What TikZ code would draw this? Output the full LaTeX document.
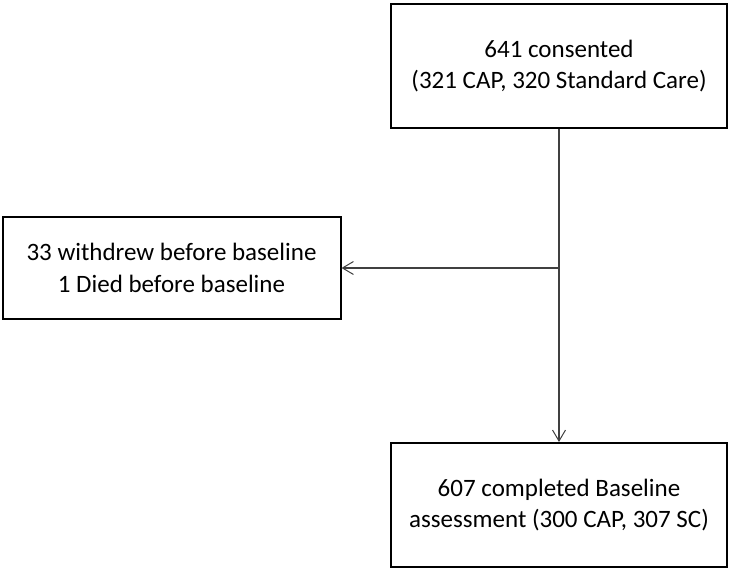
\documentclass[tikz,border=0pt]{standalone}
\usepackage{fontspec}
\setmainfont{Carlito}
\usetikzlibrary{positioning,arrows.meta}

\begin{document}
\begin{tikzpicture}[
            x=1pt, y=-1pt,
            box/.style = {draw=black, line width=2pt, inner sep=0pt, align=center,
                          minimum width=336pt, minimum height=124pt,
                          font=\fontsize{25}{31.5}\selectfont},
            flow/.style = {draw=black!75, line width=1.2pt,
                           -{Straight Barb[length=11pt, width=13pt, line width=1pt]}}
        ]
            \useasboundingbox (0,0) rectangle (730,569);

            \node[box] (consented) at (559,66) {641 consented\\(321 CAP, 320 Standard Care)};
            \node[box, minimum width=338pt, minimum height=101pt] (withdrew) at (171.5,268)
                {33 withdrew before baseline\\1 Died before baseline};
            \node[box] (completed) at (559,505) {607 completed Baseline\\assessment (300 CAP, 307 SC)};

            \coordinate (split) at (consented.south |- withdrew.east);

            \draw[flow] (consented) -- (completed);
            \draw[flow] (split) -- (withdrew);
        \end{tikzpicture}
\end{document}
